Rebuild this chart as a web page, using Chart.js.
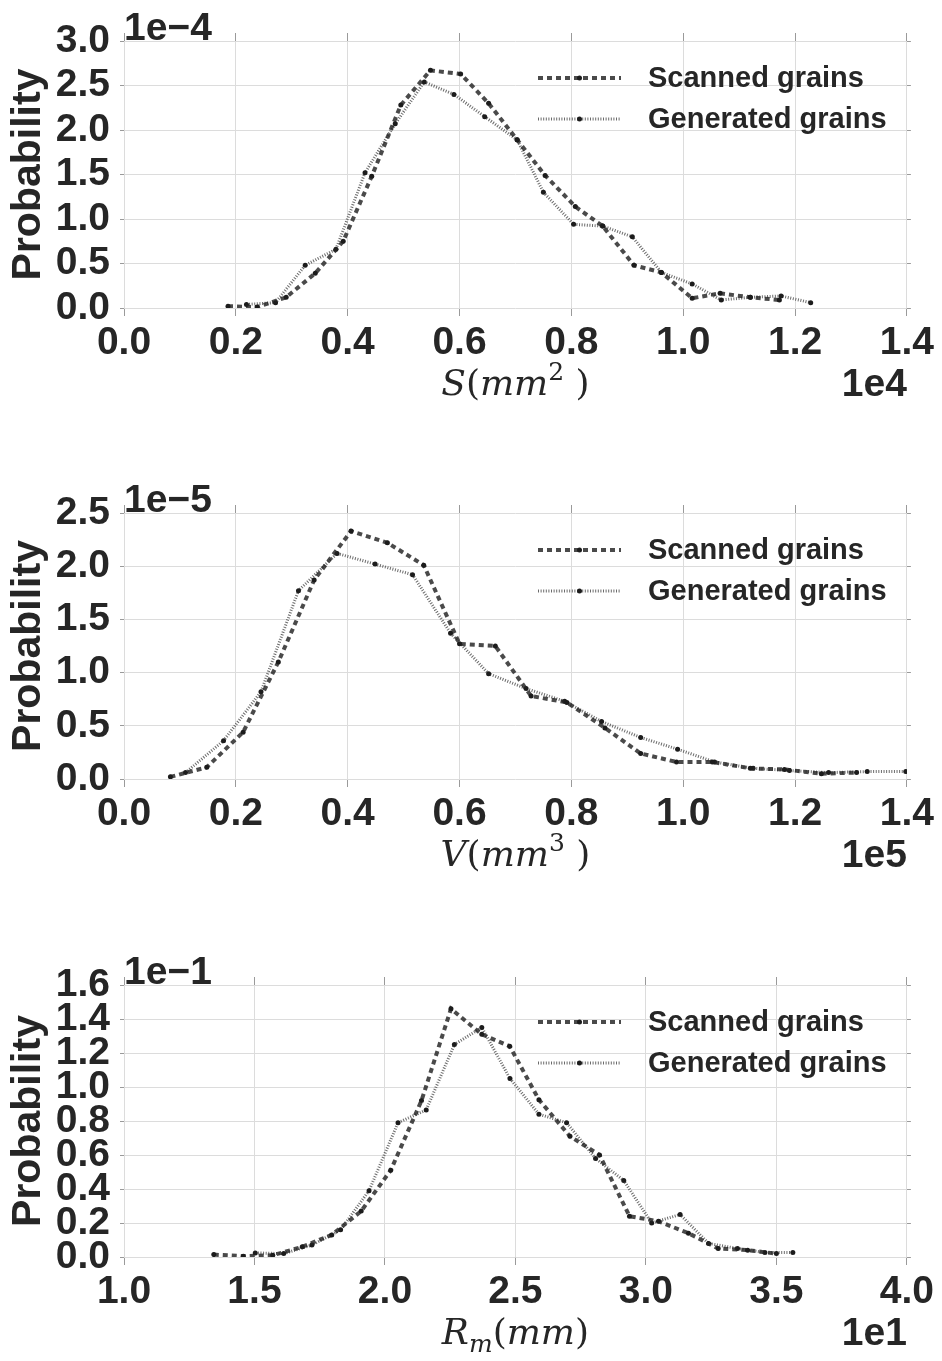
<!DOCTYPE html>
<html>
<head>
<meta charset="utf-8">
<script src="https://cdn.jsdelivr.net/npm/chart.js@4.4.1/dist/chart.umd.min.js"></script>
<style>
  body { margin: 0; background: #fff; }
  #wrap { position: relative; width: 942px; height: 1361px; }
  .panel { position: absolute; left: 0; width: 942px; }
</style>
</head>
<body>
<div id="wrap">
  <div class="panel" style="top:0;height:420px"><canvas id="areaChart"></canvas></div>
  <div class="panel" style="top:470px;height:425px"><canvas id="volumeChart"></canvas></div>
  <div class="panel" style="top:942px;height:419px"><canvas id="radiusChart"></canvas></div>
</div>
<script>
// surface area S, x in 1e4 mm^2, probability in 1e-4
const areaScannedX = [0.186, 0.238, 0.290, 0.342, 0.392, 0.443, 0.495, 0.548, 0.602, 0.652, 0.703, 0.753, 0.807, 0.856, 0.912, 0.961, 1.016, 1.066, 1.120, 1.172];
const areaScannedY = [0.02, 0.01, 0.12, 0.39, 0.75, 1.48, 2.28, 2.67, 2.63, 2.30, 1.89, 1.49, 1.14, 0.92, 0.48, 0.40, 0.11, 0.165, 0.12, 0.09];
const areaGeneratedX = [0.219, 0.271, 0.324, 0.379, 0.431, 0.485, 0.537, 0.590, 0.645, 0.703, 0.750, 0.804, 0.856, 0.909, 0.961, 1.016, 1.068, 1.120, 1.175, 1.228];
const areaGeneratedY = [0.04, 0.06, 0.48, 0.66, 1.52, 2.07, 2.54, 2.40, 2.15, 1.89, 1.30, 0.94, 0.92, 0.80, 0.40, 0.27, 0.09, 0.12, 0.135, 0.06];

// volume V, x in 1e5 mm^3, probability in 1e-5
const volScannedX = [0.083, 0.148, 0.213, 0.276, 0.340, 0.406, 0.471, 0.536, 0.600, 0.664, 0.728, 0.792, 0.860, 0.924, 0.988, 1.052, 1.120, 1.181, 1.247, 1.310];
const volScannedY = [0.02, 0.11, 0.44, 1.10, 1.87, 2.33, 2.22, 2.01, 1.27, 1.25, 0.78, 0.72, 0.48, 0.24, 0.16, 0.16, 0.10, 0.09, 0.05, 0.06];
const volGeneratedX = [0.110, 0.178, 0.245, 0.312, 0.381, 0.449, 0.516, 0.584, 0.652, 0.719, 0.788, 0.854, 0.924, 0.990, 1.056, 1.125, 1.190, 1.260, 1.329, 1.398];
const volGeneratedY = [0.06, 0.36, 0.82, 1.77, 2.12, 2.02, 1.92, 1.37, 0.99, 0.85, 0.73, 0.54, 0.39, 0.28, 0.16, 0.10, 0.08, 0.06, 0.07, 0.07];

// mean radius Rm, x in 1e1 mm, probability in 1e-1
const radScannedX = [1.344, 1.457, 1.570, 1.683, 1.796, 1.909, 2.022, 2.140, 2.253, 2.371, 2.478, 2.590, 2.709, 2.822, 2.937, 3.048, 3.163, 3.277, 3.390, 3.500];
const radScannedY = [0.014, 0.005, 0.01, 0.06, 0.13, 0.27, 0.51, 0.92, 1.46, 1.31, 1.24, 0.925, 0.71, 0.60, 0.24, 0.21, 0.14, 0.05, 0.04, 0.02];
const radGeneratedX = [1.503, 1.612, 1.720, 1.830, 1.939, 2.050, 2.158, 2.266, 2.371, 2.479, 2.590, 2.696, 2.807, 2.915, 3.022, 3.131, 3.240, 3.351, 3.456, 3.563];
const radGeneratedY = [0.024, 0.02, 0.07, 0.16, 0.39, 0.79, 0.865, 1.25, 1.35, 1.05, 0.84, 0.79, 0.58, 0.45, 0.20, 0.25, 0.08, 0.05, 0.026, 0.026];

const seriesLabels = ['Scanned grains', 'Generated grains'];

const FONT = "'Liberation Sans', Arial, sans-serif";
const INK = '#262626';
const GRID = '#dcdcdc';
const TICK = '#9a9a9a';

function pts(xs, ys) {
    return xs.map((x, i) => ({ x: x, y: ys[i] }));
}

// math-ish axis title: italic letters, upright brackets, sup/sub scripts
function drawMath(ctx, parts, cx, base) {
    const size = 36;
    const fontOf = p => (p.it ? 'italic ' : '') + Math.round(p.sup || p.sub ? size * 0.7 : size) + "px 'DejaVu Serif', serif";
    let w = 0;
    parts.forEach(p => { ctx.font = fontOf(p); w += ctx.measureText(p.t).width; });
    let x = cx - w / 2;
    ctx.textAlign = 'left';
    ctx.textBaseline = 'alphabetic';
    parts.forEach(p => {
        ctx.font = fontOf(p);
        const dy = p.sup ? -size * 0.42 : (p.sub ? size * 0.22 : 0);
        ctx.fillText(p.t, x, base + dy);
        x += ctx.measureText(p.t).width;
    });
}

const decor = {
    id: 'decor',
    afterDraw(chart, args, opts) {
        const ctx = chart.ctx;
        const a = chart.chartArea;
        ctx.save();
        ctx.fillStyle = INK;
        ctx.font = 'bold 39px ' + FONT;
        ctx.textBaseline = 'alphabetic';
        ctx.textAlign = 'left';
        ctx.fillText(opts.yOffset, a.left, a.top - 1);
        ctx.textAlign = 'right';
        ctx.fillText(opts.xOffset, a.right, a.bottom + 88);
        drawMath(ctx, opts.xTitle, (a.left + a.right) / 2, a.bottom + 87);

        // legend inside the plot, upper right
        const lx0 = a.left + 414, lx1 = a.left + 497, tx = a.left + 524;
        chart.data.datasets.forEach((ds, i) => {
            const y = a.top + 37 + i * 41;
            ctx.strokeStyle = ds.borderColor;
            ctx.lineWidth = ds.borderWidth;
            ctx.setLineDash(ds.borderDash);
            ctx.beginPath();
            ctx.moveTo(lx0, y);
            ctx.lineTo(lx1, y);
            ctx.stroke();
            ctx.setLineDash([]);
            ctx.fillStyle = ds.pointBackgroundColor;
            ctx.beginPath();
            ctx.arc((lx0 + lx1) / 2, y, ds.pointRadius, 0, Math.PI * 2);
            ctx.fill();
            ctx.fillStyle = INK;
            ctx.font = 'bold 29px ' + FONT;
            ctx.textAlign = 'left';
            ctx.textBaseline = 'middle';
            ctx.fillText(ds.label, tx, y + 1);
        });
        ctx.restore();
    }
};

function makePanel(id, p) {
    const tickFont = { family: FONT, size: 39, weight: 'bold', lineHeight: 1 };
    return new Chart(document.getElementById(id), {
        type: 'line',
        data: {
            datasets: [{
                label: seriesLabels[0],
                data: pts(p.sx, p.sy),
                borderColor: 'rgba(34, 34, 34, 0.82)',
                borderWidth: 4,
                borderDash: [5, 4],
                pointRadius: 2.5,
                pointBackgroundColor: '#1c1c1c',
                pointBorderWidth: 0,
                tension: 0,
                fill: false
            }, {
                label: seriesLabels[1],
                data: pts(p.gx, p.gy),
                borderColor: 'rgba(70, 70, 70, 0.8)',
                borderWidth: 3,
                borderDash: [1, 1.6],
                pointRadius: 2.5,
                pointBackgroundColor: '#1c1c1c',
                pointBorderWidth: 0,
                tension: 0,
                fill: false
            }]
        },
        options: {
            responsive: true,
            maintainAspectRatio: false,
            animation: false,
            layout: { padding: { top: p.top - 8, right: 30, bottom: 0, left: 0 } },
            plugins: {
                legend: { display: false },
                tooltip: { enabled: false },
                decor: { yOffset: p.yOffset, xOffset: p.xOffset, xTitle: p.xTitle }
            },
            scales: {
                x: {
                    type: 'linear',
                    position: 'bottom',
                    min: p.xMin,
                    max: p.xMax,
                    ticks: {
                        stepSize: p.xStep,
                        color: INK,
                        font: tickFont,
                        padding: 8,
                        maxRotation: 0,
                        autoSkip: false,
                        callback: v => v.toFixed(1)
                    },
                    grid: { color: GRID, tickColor: TICK, tickLength: 8 },
                    border: { display: false },
                    afterFit: s => { s.height = p.xh; }
                },
                xTop: {
                    type: 'linear',
                    position: 'top',
                    min: p.xMin,
                    max: p.xMax,
                    ticks: { display: false, stepSize: p.xStep },
                    grid: { drawOnChartArea: false, tickColor: TICK, tickLength: 8 },
                    border: { display: false },
                    afterFit: s => { s.height = 8; }
                },
                y: {
                    type: 'linear',
                    min: 0,
                    max: p.yMax,
                    ticks: {
                        stepSize: p.yStep,
                        color: INK,
                        font: tickFont,
                        padding: 10,
                        autoSkip: false,
                        callback: v => v.toFixed(1)
                    },
                    grid: { color: GRID, tickColor: TICK, tickLength: 4 },
                    border: { display: false },
                    title: {
                        display: true,
                        text: 'Probability',
                        color: INK,
                        font: { family: FONT, size: 41, weight: 'bold', lineHeight: 1.2 },
                        padding: { top: 4, bottom: 0 }
                    },
                    afterFit: s => { s.width = 124; }
                },
                yRight: {
                    type: 'linear',
                    position: 'right',
                    min: 0,
                    max: p.yMax,
                    ticks: { display: false, stepSize: p.yStep },
                    grid: { drawOnChartArea: false, tickColor: TICK, tickLength: 4 },
                    border: { display: false },
                    afterFit: s => { s.width = 4; }
                }
            }
        },
        plugins: [decor]
    });
}

makePanel('areaChart', {
    sx: areaScannedX, sy: areaScannedY, gx: areaGeneratedX, gy: areaGeneratedY,
    xMin: 0, xMax: 1.4, xStep: 0.2, yMax: 3.0, yStep: 0.5,
    top: 41, xh: 112,
    yOffset: '1e\u22124', xOffset: '1e4',
    xTitle: [{ t: 'S', it: true }, { t: '(' }, { t: 'mm', it: true }, { t: '2', sup: true }, { t: ' )' }]
});

makePanel('volumeChart', {
    sx: volScannedX, sy: volScannedY, gx: volGeneratedX, gy: volGeneratedY,
    xMin: 0, xMax: 1.4, xStep: 0.2, yMax: 2.5, yStep: 0.5,
    top: 43, xh: 116,
    yOffset: '1e\u22125', xOffset: '1e5',
    xTitle: [{ t: 'V', it: true }, { t: '(' }, { t: 'mm', it: true }, { t: '3', sup: true }, { t: ' )' }]
});

makePanel('radiusChart', {
    sx: radScannedX, sy: radScannedY, gx: radGeneratedX, gy: radGeneratedY,
    xMin: 1.0, xMax: 4.0, xStep: 0.5, yMax: 1.6, yStep: 0.2,
    top: 43, xh: 104,
    yOffset: '1e\u22121', xOffset: '1e1',
    xTitle: [{ t: 'R', it: true }, { t: 'm', it: true, sub: true }, { t: '(' }, { t: 'mm', it: true }, { t: ')' }]
});
</script>
</body>
</html>
